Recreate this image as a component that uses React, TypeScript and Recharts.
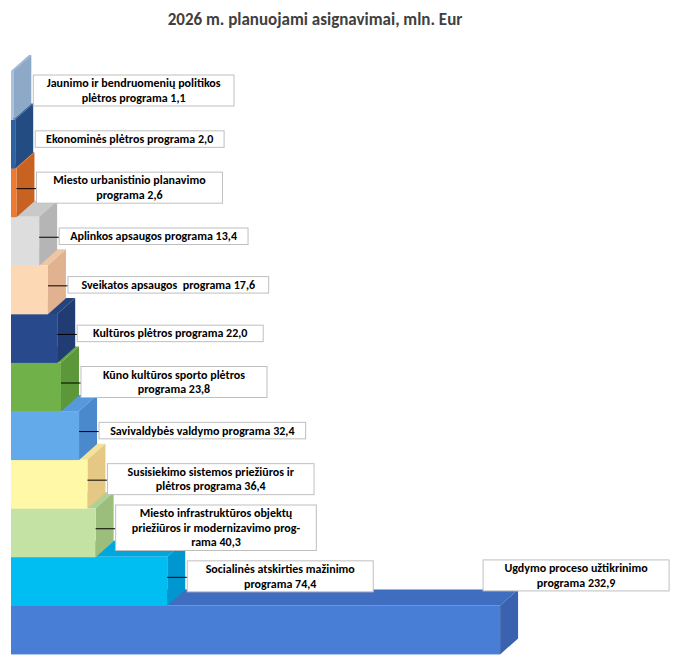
import React from "react";
import { BarChart, Bar, XAxis, YAxis, LabelList } from "recharts";

const TITLE = "2026 m. planuojami asignavimai, mln. Eur";

// Ordered from the bottom (largest) bar to the top (smallest) bar
const programs = [
  "Ugdymo proceso užtikrinimo\nprograma",
  "Socialinės atskirties mažinimo\nprograma",
  "Miesto infrastruktūros objektų\npriežiūros ir modernizavimo prog-\nrama",
  "Susisiekimo sistemos priežiūros ir\nplėtros programa",
  "Savivaldybės valdymo programa",
  "Kūno kultūros sporto plėtros\nprograma",
  "Kultūros plėtros programa",
  "Sveikatos apsaugos  programa",
  "Aplinkos apsaugos programa",
  "Miesto urbanistinio planavimo\nprograma",
  "Ekonominės plėtros programa",
  "Jaunimo ir bendruomenių politikos\nplėtros programa",
];

const values = [232.9, 74.4, 40.3, 36.4, 32.4, 23.8, 22.0, 17.6, 13.4, 2.6, 2.0, 1.1];

const frontColors = [
  "#497ed6", "#00bef2", "#c3e2a3", "#fff8a6", "#63aaea", "#71b14a",
  "#284a8c", "#fdd8b5", "#dddddd", "#ec7a30", "#2d619f", "#a9c2de",
];
const topColors = [
  "#3f6dbf", "#00a6de", "#b0d191", "#f2e29a", "#5699dc", "#66a443",
  "#24437f", "#efc6a2", "#c9c9c9", "#d96b26", "#285891", "#9bb5d3",
];
const sideColors = [
  "#3a62ae", "#0097d0", "#9cbe7d", "#e4c883", "#4a89cb", "#5c9739",
  "#203c72", "#e1b28f", "#b5b5b5", "#c86221", "#234d82", "#8ea9c8",
];

const data = programs.map((name, i) => ({ name, value: values[i] }));

const DX = 18;
const DY = 16;
const FONT = "Carlito, Lato, 'Liberation Sans', sans-serif";

const fmt = (v: number) => v.toFixed(1).replace(".", ",");

function Bar3D(props: any) {
  const { x, y, width, height, index } = props;
  const r = x + width;
  return (
    <g>
      <polygon
        points={`${x},${y} ${x + DX},${y - DY} ${r + DX},${y - DY} ${r},${y}`}
        fill={topColors[index]}
      />
      <polygon
        points={`${r},${y} ${r + DX},${y - DY} ${r + DX},${y + height - DY} ${r},${y + height}`}
        fill={sideColors[index]}
      />
      <rect x={x} y={y} width={width} height={height} fill={frontColors[index]} />
    </g>
  );
}

function ProgramLabel(props: any) {
  const vb = props.viewBox || {};
  const x = props.x ?? vb.x;
  const y = props.y ?? vb.y;
  const width = props.width ?? vb.width;
  const height = props.height ?? vb.height;
  const index = props.index;
  if (index == null || x == null) return null;
  const lines = (programs[index] + " " + fmt(values[index])).split("\n");
  const lineH = 14.5;
  const maxLen = Math.max(...lines.map((l) => l.length));
  const boxW = Math.max(maxLen * 5.9 + 6, 186);
  const boxH = lines.length * lineH + 2;
  const frontRight = x + width;
  let boxLeft: number;
  let cy: number;
  if (index === 0) {
    boxLeft = frontRight - 17;
    cy = y - DY - 14;
  } else {
    boxLeft = frontRight + DX + 2;
    cy = y + height / 2 - 5;
  }
  const showLeader = index > 0 && index < programs.length - 2;
  return (
    <g>
      {showLeader && (
        <line x1={frontRight} y1={cy + 1} x2={boxLeft} y2={cy + 1} stroke="#000" strokeWidth={1} />
      )}
      <rect
        x={boxLeft}
        y={cy - boxH / 2}
        width={boxW}
        height={boxH}
        fill="#ffffff"
        stroke="#bfbfbf"
        strokeWidth={1}
      />
      {lines.map((l, k) => (
        <text
          key={k}
          x={boxLeft + boxW / 2}
          y={cy + (k - (lines.length - 1) / 2) * lineH}
          textAnchor="middle"
          dominantBaseline="central"
          fontFamily={FONT}
          fontWeight="bold"
          fontSize={12}
          fill="#000"
          style={{ whiteSpace: "pre" }}
        >
          {l}
        </text>
      ))}
    </g>
  );
}

export default function App() {
  return (
    <div style={{ width: 675, height: 649 }}>
      <BarChart
        width={675}
        height={649}
        data={data}
        layout="vertical"
        margin={{ top: 63, right: 42, bottom: 3, left: 3 }}
        barCategoryGap={0}
      >
        <text
          x={307}
          y={17}
          textAnchor="middle"
          fontFamily={FONT}
          fontWeight="bold"
          fontSize={17}
          fill="#404040"
        >
          {TITLE}
        </text>
        <XAxis type="number" domain={[0, 300]} hide />
        <YAxis type="category" dataKey="name" reversed hide />
        <Bar dataKey="value" shape={<Bar3D />} isAnimationActive={false}>
          <LabelList dataKey="value" content={<ProgramLabel />} />
        </Bar>
      </BarChart>
    </div>
  );
}
